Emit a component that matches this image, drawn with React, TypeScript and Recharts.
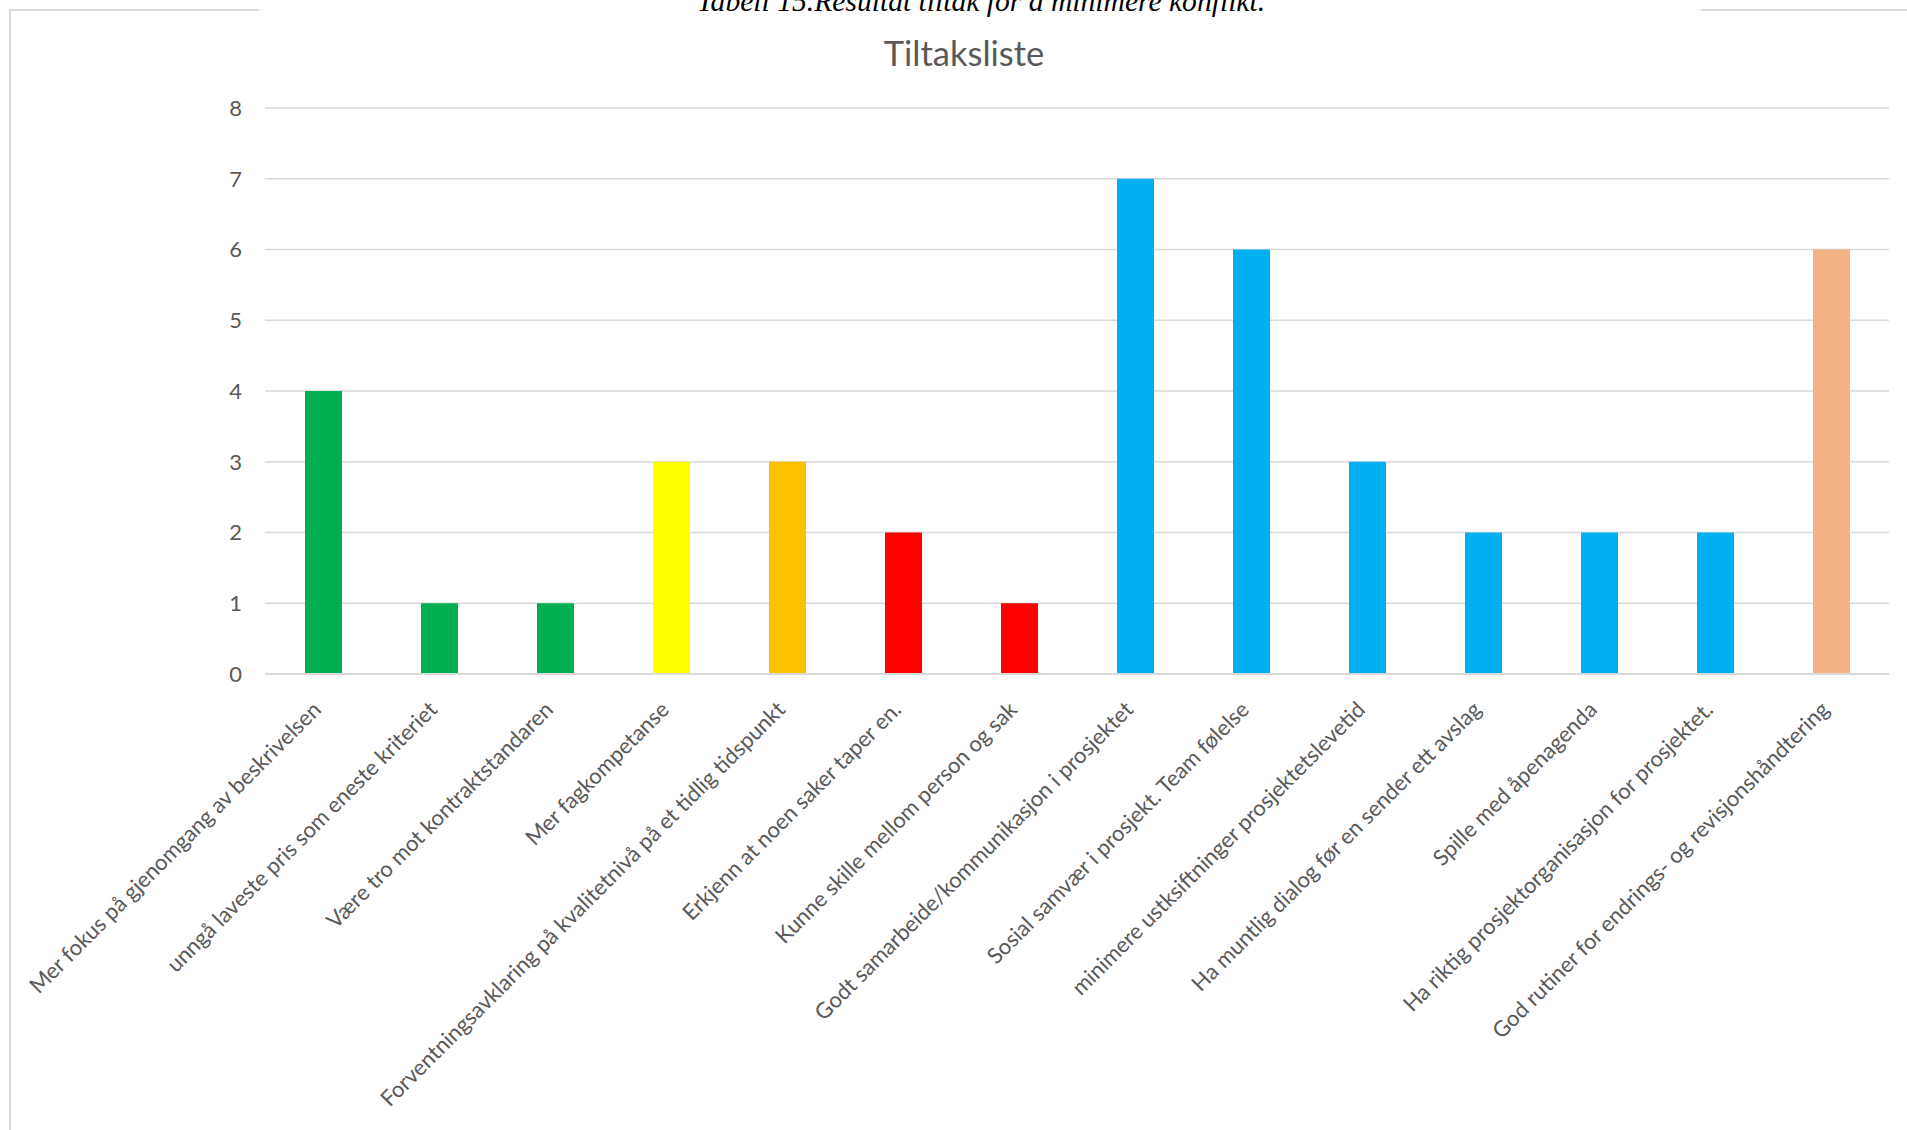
import React from "react";
import { BarChart, Bar, XAxis, YAxis, CartesianGrid, Cell } from "recharts";

const categories = [
  "Mer fokus på gjenomgang av beskrivelsen",
  "unngå laveste pris som eneste kriteriet",
  "Være tro mot kontraktstandaren",
  "Mer fagkompetanse",
  "Forventningsavklaring på kvalitetnivå på et tidlig tidspunkt",
  "Erkjenn at noen saker taper en.",
  "Kunne skille mellom person og sak",
  "Godt samarbeide/kommunikasjon i prosjektet",
  "Sosial samvær i prosjekt. Team følelse",
  "minimere ustksiftninger prosjektetslevetid",
  "Ha muntlig dialog før en sender ett avslag",
  "Spille med åpenagenda",
  "Ha riktig prosjektorganisasjon for prosjektet.",
  "God rutiner for endrings- og revisjonshåndtering",
];

const values = [4, 1, 1, 3, 3, 2, 1, 7, 6, 3, 2, 2, 2, 6];

const GREEN = "#00B050";
const YELLOW = "#FFFF00";
const ORANGE = "#FFC000";
const RED = "#FF0000";
const BLUE = "#00B0F0";
const PEACH = "#F4B183";

const barColors = [GREEN, GREEN, GREEN, YELLOW, ORANGE, RED, RED, BLUE, BLUE, BLUE, BLUE, BLUE, BLUE, PEACH];

const yTicks = [0, 1, 2, 3, 4, 5, 6, 7, 8];

const chartTitle = "Tiltaksliste";
const caption = "Tabell 15.Resultat tiltak for å minimere konflikt.";

const data = categories.map((name, i) => ({ name, value: values[i] }));

const FONT = "Lato, 'Open Sans', sans-serif";

const XTick = (props: any) => {
  const { x, y, payload } = props;
  const ax = x - 0.5;
  const ay = y + 29;
  return (
    <text
      x={ax}
      y={ay}
      transform={`rotate(-45, ${ax}, ${ay})`}
      textAnchor="end"
      fill="#595959"
      fontSize={22}
      fontFamily={FONT}
    >
      {payload.value}
    </text>
  );
};

export default function App() {
  return (
    <div style={{ position: "absolute", left: 0, top: 0, width: 1907, height: 1130, background: "#fff", overflow: "hidden" }}>
      <div style={{ position: "absolute", left: 0, top: 0 }}>
        <BarChart
          width={1907}
          height={1130}
          data={data}
          margin={{ top: 108, right: 18, bottom: 0, left: 0 }}
        >
          <CartesianGrid vertical={false} stroke="#d9d9d9" strokeWidth={1.5} />
          <XAxis
            dataKey="name"
            interval={0}
            height={456}
            tickLine={false}
            axisLine={{ stroke: "#d9d9d9", strokeWidth: 2 }}
            tick={<XTick />}
          />
          <YAxis
            width={265}
            domain={[0, 8]}
            ticks={yTicks}
            axisLine={false}
            tickLine={false}
            tickSize={0}
            tickMargin={23}
            tick={{ fill: "#595959", fontSize: 22, fontFamily: FONT }}
          />
          <Bar dataKey="value" barSize={37} isAnimationActive={false}>
            {data.map((d, i) => (
              <Cell key={d.name} fill={barColors[i]} />
            ))}
          </Bar>
        </BarChart>
      </div>
      <svg
        width={1907}
        height={1130}
        style={{ position: "absolute", left: 0, top: 0, pointerEvents: "none" }}
      >
        <line x1={10} y1={10} x2={10} y2={1130} stroke="#d9d9d9" strokeWidth={2} />
        <line x1={9} y1={10} x2={259} y2={10} stroke="#d9d9d9" strokeWidth={2} />
        <line x1={1701} y1={10} x2={1907} y2={10} stroke="#d9d9d9" strokeWidth={2} />
        <text
          x={981}
          y={11}
          textAnchor="middle"
          fontFamily="'Liberation Serif', 'Times New Roman', serif"
          fontStyle="italic"
          fontSize={29.6}
          fill="#000"
        >
          {caption}
        </text>
        <text
          x={964}
          y={66}
          textAnchor="middle"
          fontFamily={FONT}
          fontSize={34.5}
          fill="#595959"
        >
          {chartTitle}
        </text>
      </svg>
    </div>
  );
}
